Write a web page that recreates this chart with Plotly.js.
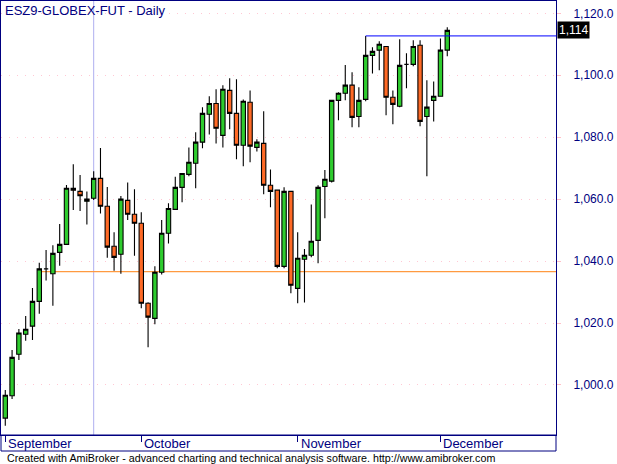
<!DOCTYPE html>
<html>
<head>
<meta charset="utf-8">
<script src="https://cdn.plot.ly/plotly-3.0.1.min.js"></script>
<style>
  html, body { margin: 0; padding: 0; background: #ffffff; }
  #chart { width: 617px; height: 464px; }
</style>
</head>
<body>
<div id="chart"></div>
<script>
// ---- Data (ESZ9 daily bars, Sept - early Dec 2009) ----
const barIndex = Array.from({length: 66}, (_, i) => i);

const openPrices = [989.3, 996.5, 1009.9, 1016.4, 1019.0, 1027.0, 1037.5, 1035.9, 1042.8, 1045.4,
  1063.5, 1062.5, 1059.3, 1060.3, 1066.7, 1057.7, 1044.8, 1042.2, 1059.6, 1055.1,
  1052.2, 1026.4, 1021.5, 1036.4, 1049.0, 1056.7, 1063.8, 1068.0, 1071.6, 1078.4,
  1087.4, 1090.9, 1080.6, 1095.1, 1087.7, 1077.4, 1091.3, 1076.7, 1078.0, 1064.5,
  1062.9, 1038.3, 1062.5, 1031.2, 1040.6, 1041.9, 1046.7, 1064.1, 1065.8, 1091.9,
  1094.2, 1096.8, 1086.7, 1092.2, 1106.4, 1108.1, 1109.3, 1092.9, 1090.0, 1103.5,
  1103.5, 1109.7, 1086.7, 1091.9, 1093.2, 1108.1];

const highPrices = [998.4, 1011.3, 1018.1, 1022.3, 1031.3, 1039.5, 1043.6, 1045.1, 1052.0, 1064.6,
  1071.3, 1067.8, 1062.5, 1069.0, 1076.5, 1063.9, 1049.3, 1061.0, 1065.4, 1063.2,
  1055.8, 1026.7, 1038.3, 1053.3, 1058.7, 1067.2, 1068.3, 1076.7, 1081.6, 1089.7,
  1093.2, 1095.5, 1096.8, 1099.0, 1098.7, 1092.2, 1095.1, 1079.3, 1088.4, 1069.6,
  1062.9, 1063.8, 1062.6, 1049.3, 1043.9, 1058.3, 1064.5, 1069.4, 1091.9, 1094.5,
  1103.3, 1101.0, 1096.1, 1112.7, 1109.0, 1111.0, 1109.3, 1095.1, 1111.6, 1107.1,
  1111.3, 1111.3, 1098.4, 1098.0, 1111.9, 1115.5];

const lowPrices = [986.8, 995.5, 1008.1, 1014.3, 1014.5, 1023.0, 1033.7, 1025.6, 1038.5, 1045.2,
  1056.5, 1056.2, 1051.8, 1059.7, 1055.4, 1041.1, 1036.9, 1035.9, 1053.3, 1041.7,
  1024.8, 1012.2, 1019.6, 1035.7, 1045.7, 1056.7, 1059.0, 1067.4, 1063.5, 1076.4,
  1080.9, 1078.0, 1076.7, 1082.6, 1072.9, 1070.6, 1071.9, 1075.4, 1061.6, 1057.4,
  1037.7, 1037.7, 1029.6, 1026.4, 1026.6, 1041.2, 1039.3, 1053.8, 1065.4, 1085.5,
  1091.9, 1083.2, 1083.2, 1091.6, 1100.6, 1101.6, 1087.1, 1084.2, 1089.7, 1095.8,
  1102.9, 1083.5, 1067.4, 1085.1, 1093.2, 1106.1];

const closePrices = [996.7, 1008.9, 1016.8, 1018.0, 1027.0, 1037.5, 1037.5, 1042.5, 1045.4, 1063.5,
  1062.9, 1061.1, 1060.0, 1066.7, 1057.7, 1044.5, 1041.2, 1060.0, 1055.1, 1052.2,
  1026.4, 1021.9, 1036.4, 1049.0, 1057.0, 1063.8, 1068.3, 1071.9, 1078.4, 1087.7,
  1090.9, 1082.9, 1095.5, 1087.7, 1077.4, 1091.6, 1077.1, 1078.4, 1064.5, 1062.5,
  1038.3, 1062.5, 1032.2, 1040.9, 1041.9, 1046.4, 1063.8, 1066.4, 1091.9, 1094.2,
  1096.8, 1086.4, 1091.9, 1106.4, 1107.7, 1110.0, 1092.9, 1090.6, 1103.2, 1103.5,
  1109.3, 1085.1, 1089.7, 1093.2, 1108.1, 1114.5];

const monthStartIndex = [0, 20, 43, 64];
const monthLabels = ["September", "October", "November", "December"];
const priceTicks = [1000, 1020, 1040, 1060, 1080, 1100, 1120];

// study lines drawn on the chart
const blueLineStartIndex = 53;            // horizontal line from this bar's high
const orangeLineStartIndex = 5;
const orangeLineLevel = 1036.6;
const cursorBarIndex = 13;

const chartTitle = "ESZ9-GLOBEX-FUT - Daily";
const footerText = "Created with AmiBroker - advanced charting and technical analysis software. http://www.amibroker.com";

// ---- Layout geometry ----
const W = 617, H = 464;
const M = {l: 1, r: 61, t: 1, b: 29};
const plotH = H - M.t - M.b;
const xRange = [-0.63, 80.99];
const yRange = [983.85, 1123.97];
const navy = "#000080";
const font = "Arial, 'Liberation Sans', sans-serif";

const lastClose = closePrices[closePrices.length - 1];
const lastLabel = Math.floor(lastClose).toLocaleString("en-US");

const trace = {
  type: "candlestick",
  x: barIndex,
  open: openPrices, high: highPrices, low: lowPrices, close: closePrices,
  increasing: {line: {color: "#000000", width: 1.1}, fillcolor: "#2ecc2e"},
  decreasing: {line: {color: "#000000", width: 1.1}, fillcolor: "#ff6a26"},
  whiskerwidth: 0,
  hoverinfo: "skip",
  showlegend: false
};

const shapes = [
  // date strip below the price pane
  {type: "rect", xref: "paper", yref: "paper", x0: 0, x1: 1, y0: -16 / plotH, y1: 0,
   line: {color: navy, width: 1}, fillcolor: "rgba(0,0,0,0)", layer: "above"},
  // cursor vertical line
  {type: "line", xref: "x", yref: "paper", x0: cursorBarIndex, x1: cursorBarIndex, y0: 0, y1: 1,
   line: {color: "#b0b0f0", width: 1}, layer: "below"},
  // orange horizontal study line
  {type: "line", xref: "x", yref: "y", x0: orangeLineStartIndex, x1: xRange[1],
   y0: orangeLineLevel, y1: orangeLineLevel, line: {color: "#ff9a40", width: 1.3}, layer: "below"},
  // blue horizontal study line from a bar's high
  {type: "line", xref: "x", yref: "y", x0: blueLineStartIndex, x1: xRange[1],
   y0: highPrices[blueLineStartIndex], y1: highPrices[blueLineStartIndex],
   line: {color: "#0000ff", width: 1}, layer: "above"}
];

const annotations = [
  {xref: "paper", yref: "paper", x: 0, y: 1, xanchor: "left", yanchor: "top", xshift: 2, yshift: 0,
   text: chartTitle, showarrow: false, font: {family: font, size: 13, color: navy}},
  {xref: "paper", yref: "y", x: 1, y: lastClose, xanchor: "left", yanchor: "middle", xshift: 1,
   text: lastLabel, showarrow: false, bgcolor: "#000000", borderpad: 1,
   font: {family: font, size: 12, color: "#ffffff"}},
  {xref: "paper", yref: "paper", x: 0, y: -(458 - (M.t + plotH)) / plotH, xanchor: "left", yanchor: "middle",
   xshift: 4, text: footerText, showarrow: false, font: {family: font, size: 10.7, color: "#000000"}}
];

monthStartIndex.forEach((idx, i) => {
  annotations.push({xref: "x", yref: "paper", x: idx, y: 0, xanchor: "left", yanchor: "top",
    xshift: 1, yshift: 1, text: monthLabels[i], showarrow: false,
    font: {family: font, size: 13, color: navy}});
});

const layout = {
  width: W, height: H,
  margin: M,
  paper_bgcolor: "#ffffff", plot_bgcolor: "#ffffff",
  showlegend: false,
  hovermode: false,
  boxgap: 0.36,
  boxgroupgap: 0,
  xaxis: {
    range: xRange, fixedrange: true,
    rangeslider: {visible: false},
    showgrid: false, zeroline: false,
    showline: true, mirror: true, linecolor: navy, linewidth: 1,
    tickmode: "array", tickvals: monthStartIndex, ticktext: monthLabels,
    showticklabels: false, ticks: "outside", ticklen: 6, tickcolor: navy, tickwidth: 1
  },
  yaxis: {
    range: yRange, fixedrange: true,
    side: "right",
    showgrid: true, gridcolor: "#ffc8d4", griddash: "1px,7px", gridwidth: 1,
    zeroline: false,
    showline: true, mirror: true, linecolor: navy, linewidth: 1,
    tickmode: "array", tickvals: priceTicks,
    tickformat: ",.1f",
    ticks: "outside", ticklen: 4, tickcolor: "#ffc0c8", tickwidth: 1,
    ticklabelstandoff: 10,
    tickfont: {family: font, size: 12, color: navy}
  },
  shapes: shapes,
  annotations: annotations
};

Plotly.newPlot("chart", [trace], layout, {displayModeBar: false, staticPlot: true});
</script>
</body>
</html>
